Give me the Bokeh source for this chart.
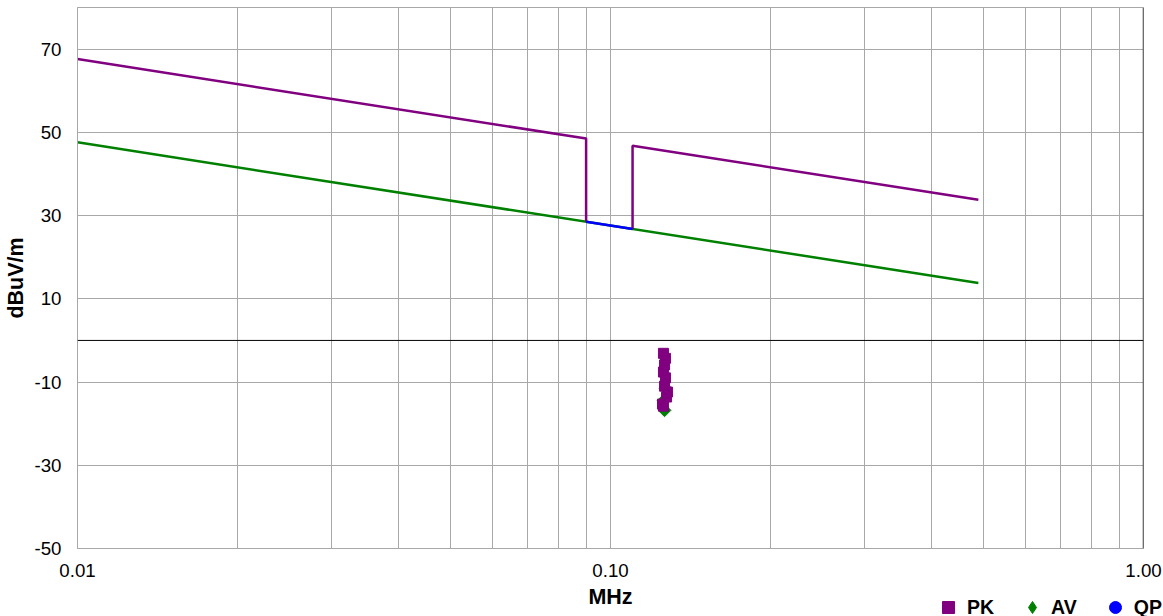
import math
from bokeh.plotting import figure
from bokeh.models import (FixedTicker, PrintfTickFormatter, Span, Legend, LegendItem,
                          Range1d)
from bokeh.embed import file_html
from bokeh.resources import INLINE

# ---- data ----
pk_lim_a_f = [0.01, 0.09, 0.09]
pk_lim_a_v = [67.6, 48.5, 28.5]
pk_lim_b_f = [0.11, 0.11, 0.49]
pk_lim_b_v = [26.8, 46.8, 33.8]
av_lim_f = [0.01, 0.49]
av_lim_v = [47.6, 13.8]
qp_lim_f = [0.09, 0.11]
qp_lim_v = [28.5, 26.8]

pk_f = [0.1257, 0.1268, 0.1263, 0.1257, 0.1268, 0.1263, 0.1279, 0.1274, 0.1252, 0.1257]
pk_v = [-3.1, -4.3, -5.9, -7.6, -9.0, -11.0, -12.4, -13.6, -15.3, -15.8]
av_f = [0.1263, 0.1257, 0.1268]
av_v = [-16.8, -14.5, -11.5]
qp_f = [0.1257, 0.1263, 0.1268]   # hidden behind the PK squares
qp_v = [-3.1, -5.9, -9.0]

y_ticks = [-50, -30, -10, 10, 30, 50, 70]
x_ticks = [0.01, 0.1, 1.0]
x_minor = [0.02, 0.03, 0.04, 0.05, 0.06, 0.07, 0.08, 0.09,
           0.2, 0.3, 0.4, 0.5, 0.6, 0.7, 0.8, 0.9]
legend_labels = ["PK", "AV", "QP"]

PURPLE = "#800080"
GREEN = "#008000"
BLUE = "#0000ff"
GRID = "#a8a8a8"
FONT = "Liberation Sans"
DIAMOND_ANGLE = math.pi / 4

p = figure(width=1163, height=616, x_axis_type="log",
           x_range=Range1d(0.01, 1.0), y_range=Range1d(-50, 80),
           output_backend="svg", toolbar_location=None,
           min_border_left=77, min_border_right=20, min_border_top=7,
           min_border_bottom=68)

p.outline_line_color = GRID
p.background_fill_color = "white"
p.border_fill_color = "white"

# axes
p.xaxis.ticker = FixedTicker(ticks=x_ticks, minor_ticks=x_minor)
p.xaxis.formatter = PrintfTickFormatter(format="%.2f")
p.yaxis.ticker = FixedTicker(ticks=y_ticks)
p.yaxis.formatter = PrintfTickFormatter(format="%d")
for ax in (p.xaxis[0], p.yaxis[0]):
    ax.axis_line_color = GRID
    ax.major_tick_out = 0
    ax.major_tick_in = 0
    ax.minor_tick_out = 0
    ax.minor_tick_in = 0
    ax.major_label_text_font = FONT
    ax.major_label_text_font_size = "18.7px"
    ax.major_label_text_color = "black"
    ax.axis_label_text_font = FONT
    ax.axis_label_text_font_style = "bold"
    ax.axis_label_text_color = "black"
    ax.axis_label_text_font_size = "21.5px"
p.xaxis.axis_label = "MHz"
p.yaxis.axis_label = "dBuV/m"
p.xaxis.major_label_standoff = 15
p.xaxis.axis_label_standoff = 5
p.yaxis.major_label_standoff = 16
p.yaxis.axis_label_standoff = 3

# grids
p.xgrid.grid_line_color = GRID
p.xgrid.minor_grid_line_color = GRID
p.ygrid.grid_line_color = GRID

# zero line and right border
p.add_layout(Span(location=0, dimension="width", line_color="black", line_width=1))
p.add_layout(Span(location=1.0, dimension="height", line_color="#333333", line_width=1.5))

# limit lines
p.line(av_lim_f, av_lim_v, line_color=GREEN, line_width=2.5)
p.line(pk_lim_a_f, pk_lim_a_v, line_color=PURPLE, line_width=2.5)
p.line(pk_lim_b_f, pk_lim_b_v, line_color=PURPLE, line_width=2.5)
p.line(qp_lim_f, qp_lim_v, line_color=BLUE, line_width=2.5)

# measured points
p.scatter(qp_f, qp_v, marker="circle", size=8, fill_color=BLUE, line_color=BLUE)
p.scatter(av_f, av_v, marker="square", angle=DIAMOND_ANGLE, size=9,
          fill_color=GREEN, line_color=GREEN)
p.scatter(pk_f, pk_v, marker="square", size=10, fill_color=PURPLE, line_color=PURPLE)

# ---- transparent legend strip laid over the bottom of the chart ----
LH = 40
lf = figure(width=1163, height=LH, x_axis_type=None, y_axis_type=None,
            x_range=Range1d(0, 1), y_range=Range1d(1000, 1001),
            output_backend="svg", toolbar_location=None,
            min_border=0, margin=(-LH, 0, 0, 0))
lf.outline_line_color = None
lf.background_fill_alpha = 0
lf.border_fill_alpha = 0
lf.xgrid.visible = False
lf.ygrid.visible = False
# same series; they fall outside this strip's ranges, only their legend keys show
l_pk = lf.scatter(pk_f, pk_v, marker="square", fill_color=PURPLE, line_color=PURPLE)
l_av = lf.scatter(av_f, av_v, marker="diamond", fill_color=GREEN, line_color=GREEN)
l_qp = lf.scatter(qp_f, qp_v, marker="circle", fill_color=BLUE, line_color=BLUE)

legend = Legend(items=[LegendItem(label=legend_labels[0], renderers=[l_pk]),
                       LegendItem(label=legend_labels[1], renderers=[l_av]),
                       LegendItem(label=legend_labels[2], renderers=[l_qp])],
                orientation="horizontal", location=(933, -6),
                glyph_width=30, glyph_height=30, label_standoff=4, spacing=23,
                padding=0, margin=0, border_line_color=None,
                background_fill_alpha=0, label_height=18,
                label_text_font=FONT, label_text_font_size="19.5px",
                label_text_font_style="bold", label_text_color="black")
lf.add_layout(legend, "center")

open("out.html", "w").write(file_html([p, lf], INLINE))
